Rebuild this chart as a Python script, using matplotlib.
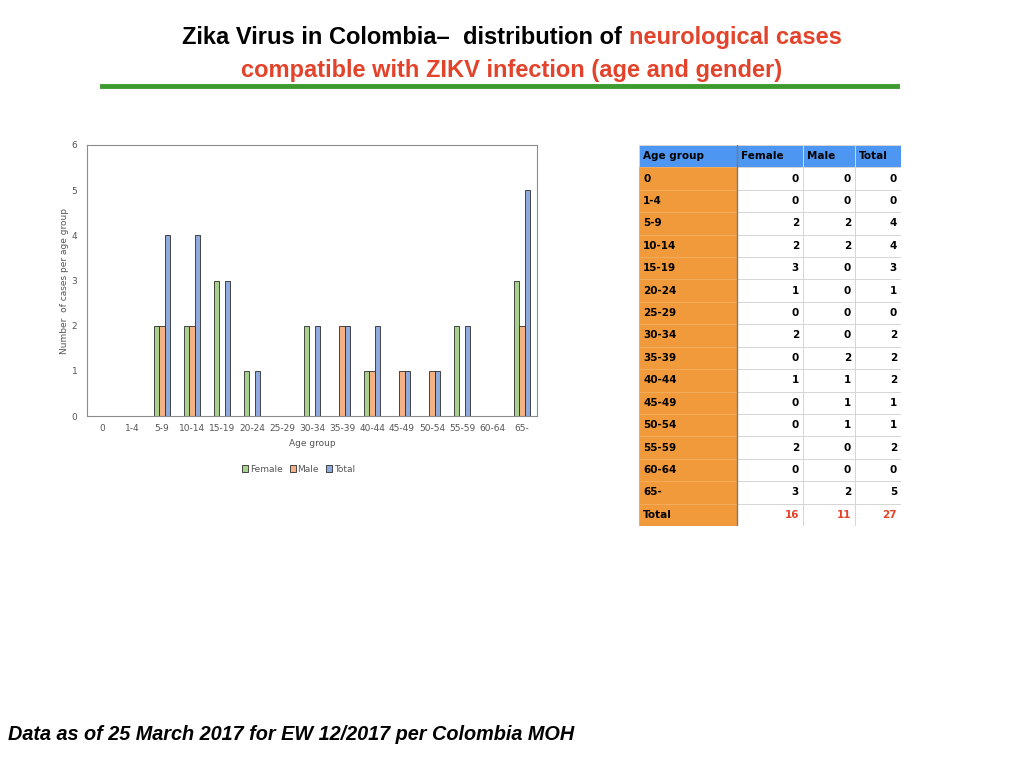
import numpy as np
import matplotlib
matplotlib.use('Agg')
import matplotlib.pyplot as plt
from matplotlib.patches import Rectangle

age_groups = ['0', '1-4', '5-9', '10-14', '15-19', '20-24', '25-29', '30-34',
              '35-39', '40-44', '45-49', '50-54', '55-59', '60-64', '65-']
female = [0, 0, 2, 2, 3, 1, 0, 2, 0, 1, 0, 0, 2, 0, 3]
male = [0, 0, 2, 2, 0, 0, 0, 0, 2, 1, 1, 1, 0, 0, 2]
total = [0, 0, 4, 4, 3, 1, 0, 2, 2, 2, 1, 1, 2, 0, 5]
col_names = ['Age group', 'Female', 'Male', 'Total']
sums = ['16', '11', '27']

title_black = 'Zika Virus in Colombia\u2013  distribution of '
title_red1 = 'neurological cases'
title_red2 = 'compatible with ZIKV infection (age and gender)'
footer = 'Data as of 25 March 2017 for EW 12/2017 per Colombia MOH'

RED = '#e2432a'
TFONT = ['Liberation Sans Narrow', 'Liberation Sans', 'DejaVu Sans']

fig = plt.figure(figsize=(10.24, 7.68), dpi=100)
fig.patch.set_facecolor('white')

# ---- title, two colours on line 1
renderer = fig.canvas.get_renderer()
t1 = fig.text(0, 0, title_black, fontsize=17, fontweight='bold', family=TFONT)
t2 = fig.text(0, 0, title_red1, fontsize=17, fontweight='bold', family=TFONT, color=RED)
w1 = t1.get_window_extent(renderer).width / 1024
w2 = t2.get_window_extent(renderer).width / 1024
x0 = 0.5 - (w1 + w2) / 2
t1.set_position((x0, 1 - 44 / 768))
t2.set_position((x0 + w1, 1 - 44 / 768))
fig.text(0.5, 1 - 77 / 768, title_red2, fontsize=17, fontweight='bold',
         family=TFONT, color=RED, ha='center')
fig.add_artist(plt.Line2D([102 / 1024, 897 / 1024], [1 - 86 / 768, 1 - 86 / 768],
                          color='#3c9a2e', lw=3.5, transform=fig.transFigure))

fig.text(8 / 1024, 1 - 740 / 768, footer, fontsize=14.3, fontweight='bold',
         fontstyle='italic', family=['Liberation Sans', 'DejaVu Sans'])

# ---- bar chart
ax = fig.add_axes([87 / 1024, 1 - 416 / 768, 450 / 1024, 271 / 768])
x = np.arange(len(age_groups))
w = 0.18
kw = dict(edgecolor='#2b2b2b', linewidth=0.6)
ax.bar(x - w, female, w, color='#a9d18e', label='Female', **kw)
ax.bar(x, male, w, color='#f4b183', label='Male', **kw)
ax.bar(x + w, total, w, color='#8faadc', label='Total', **kw)
ax.set_xlim(-0.5, 14.5)
ax.set_ylim(0, 6)
ax.set_xticks(x)
ax.set_xticklabels(age_groups)
ax.set_yticks(range(7))
ax.tick_params(length=0, labelsize=6.5, labelcolor='#555555')
ax.tick_params(axis='x', pad=6)
ax.tick_params(axis='y', pad=7)
for s in ax.spines.values():
    s.set_color('#8c8c8c')
    s.set_linewidth(0.8)
ax.set_xlabel('Age group', fontsize=6.5, color='#555555', labelpad=4)
ax.set_ylabel('Number  of cases per age group', fontsize=6.5, color='#555555', labelpad=2)
ax.legend(loc='upper center', bbox_to_anchor=(0.47, -0.15), ncol=3, frameon=False,
          fontsize=6.5, labelcolor='#555555', handlelength=0.7, handleheight=0.7,
          handletextpad=0.15, columnspacing=0.8)

# ---- table
tx = fig.add_axes([639 / 1024, 1 - 526 / 768, 262 / 1024, 381 / 768])
tx.set_xlim(0, 262)
tx.set_ylim(381, 0)
tx.axis('off')
col_w = [98, 66, 52, 46]
col_x = np.concatenate([[0], np.cumsum(col_w)])
nrows = len(age_groups) + 2
rh = 381 / nrows
rows = [[g, str(f), str(m), str(t)] for g, f, m, t in zip(age_groups, female, male, total)]
rows = [col_names] + rows + [['Total'] + sums]
for r, row in enumerate(rows):
    y = r * rh
    for c, val in enumerate(row):
        if r == 0:
            fc, ec = '#4d96f2', '#d6d6d6'
        elif c == 0:
            fc, ec = '#f19a3b', '#f3ab5c'
        else:
            fc, ec = 'white', '#d6d6d6'
        tx.add_patch(Rectangle((col_x[c], y), col_w[c], rh, facecolor=fc,
                               edgecolor=ec, lw=0.7))
        color = RED if (r == nrows - 1 and c > 0) else 'black'
        if r == 0 or c == 0:
            tx.text(col_x[c] + 4, y + rh / 2, val, ha='left', va='center',
                    fontsize=7.5, fontweight='bold', color=color)
        else:
            tx.text(col_x[c + 1] - 4, y + rh / 2, val, ha='right', va='center',
                    fontsize=7.5, fontweight='bold', color=color)
tx.plot([col_x[1], col_x[1]], [0, 381], color='#7a7a7a', lw=1)

fig.savefig('out.png', dpi=100)
